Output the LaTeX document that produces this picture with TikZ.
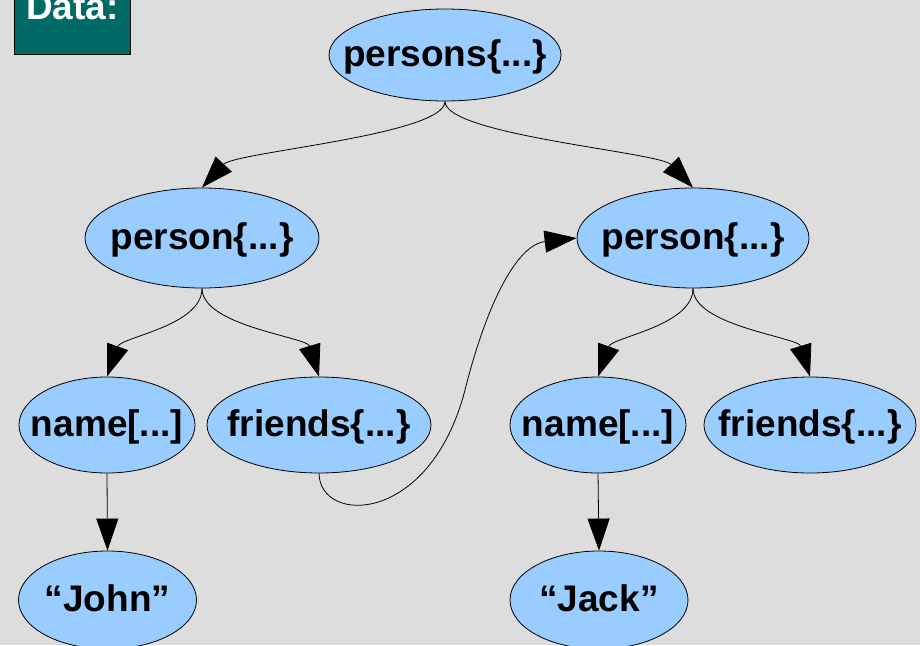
\documentclass[tikz,border=0pt]{standalone}
\usepackage{fontspec}
\setmainfont{Liberation Sans}
\usetikzlibrary{shapes.geometric,arrows.meta}
\definecolor{bggray}{RGB}{221,221,221}
\definecolor{nodeblue}{RGB}{153,204,255}
\definecolor{teal2}{RGB}{0,106,102}
\newcommand\ztext[1]{\makebox[0pt][c]{#1}}
\tikzset{
  ell/.style={ellipse,draw=black,line width=0.8pt,fill=nodeblue,inner sep=0pt,
    text height=23.4pt,text depth=0pt,
    font=\fontsize{37}{40}\selectfont\bfseries},
  conn/.style={draw=black,line width=0.8pt,-{Triangle[length=32pt,width=22pt]}},
  databox/.style={rectangle,draw=black,line width=0.8pt,fill=teal2,text=white,inner sep=0pt,
    minimum width=116pt,text height=40pt,text depth=35pt,
    font=\fontsize{37}{40}\selectfont\bfseries}
}
\begin{document}
\begin{tikzpicture}[x=1pt,y=-1pt]
\useasboundingbox (0,0) rectangle (920,645);
\fill[bggray] (0,0) rectangle (920,645);

\node[databox,anchor=base] (data) at (72.5,19) {Data:};

\node[ell,minimum width=232pt,minimum height=92pt] (persons) at (445,55) {\ztext{persons\{...\}}};
\node[ell,minimum width=234pt,minimum height=100pt] (personL) at (202,238) {\ztext{person\{...\}}};
\node[ell,minimum width=232pt,minimum height=100pt] (personR) at (693,238) {\ztext{person\{...\}}};
\node[ell,minimum width=176pt,minimum height=96pt] (nameL) at (107,425) {\ztext{name[...]}};
\node[ell,minimum width=224pt,minimum height=96pt] (friendsL) at (319,425) {\ztext{friends\{...\}}};
\node[ell,minimum width=176pt,minimum height=96pt] (nameR) at (598,425) {\ztext{name[...]}};
\node[ell,minimum width=212pt,minimum height=96pt] (friendsR) at (810,425) {\ztext{friends\{...\}}};
\node[ell,minimum width=178pt,minimum height=98pt] (john) at (107.5,600) {\ztext{“John”}};
\node[ell,minimum width=178pt,minimum height=98pt] (jack) at (599,600) {\ztext{“Jack”}};

\draw[conn] (persons.south) .. controls (445,135) and (235,152) .. (personL.north);
\draw[conn] (persons.south) .. controls (445,135) and (659,152) .. (personR.north);

\draw[conn] (personL.south) .. controls (202,326) and (121,337) .. (nameL.north);
\draw[conn] (personL.south) .. controls (202,326) and (307,337) .. (friendsL.north);
\draw[conn] (personR.south) .. controls (693,326) and (612,337) .. (nameR.north);
\draw[conn] (personR.south) .. controls (693,326) and (798,337) .. (friendsR.north);

\draw[conn] (nameL.south) -- (john.north);
\draw[conn] (nameR.south) -- (jack.north);

\draw[conn] (friendsL.south) .. controls (320,525) and (430,525) .. (465,390)
  .. controls (485,310) and (515,245) .. (personR.west);
\end{tikzpicture}
\end{document}
